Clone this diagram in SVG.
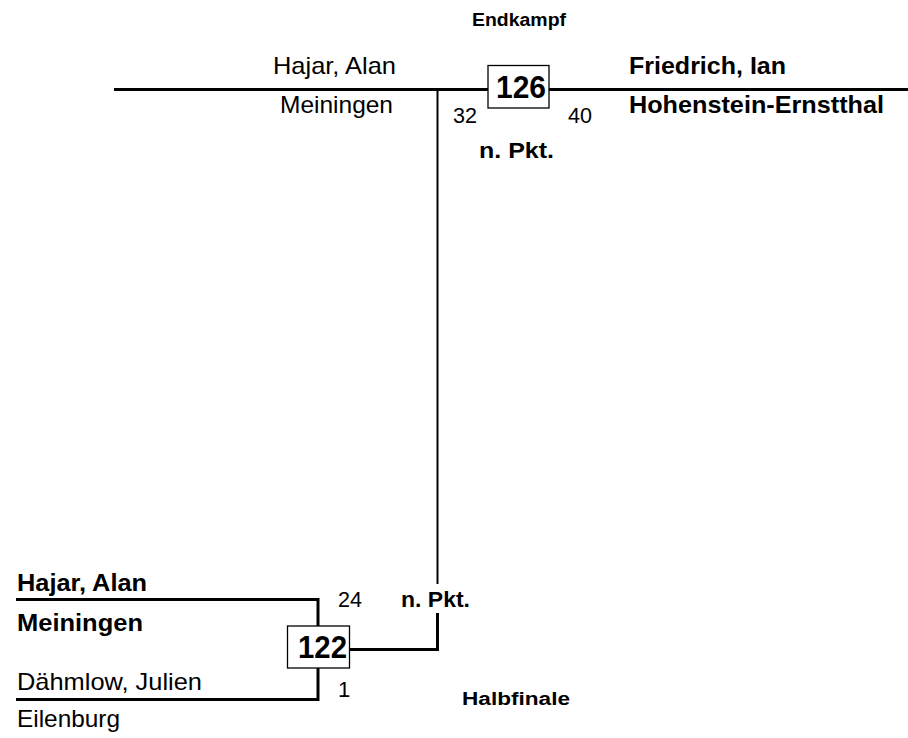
<svg xmlns="http://www.w3.org/2000/svg" width="908" height="738" viewBox="0 0 908 738">
<style>
text{font-family:"Liberation Sans",Arial,Helvetica,sans-serif;fill:#000}
.n{font-size:24px}
.b{font-size:24px;font-weight:bold}
.p{font-size:22px;font-weight:bold}
.s{font-size:18px;font-weight:bold}
.d{font-size:22px}
.box{fill:#fff;stroke:#000;stroke-width:1.3}
.num{font-size:31px;font-weight:bold}
.th{stroke:#000;stroke-width:3;fill:none}
.tn{stroke:#000;stroke-width:2;fill:none}
</style>
<rect width="908" height="738" fill="#fff"/>
<g id="connectors">
<line class="th" x1="114" y1="89.5" x2="908" y2="89.5"/>
<line class="tn" x1="437.5" y1="89.5" x2="437.5" y2="584"/>
<polyline class="th" points="349,649.5 437.5,649.5 437.5,613"/>
<polyline class="th" points="16,599.5 318,599.5 318,626"/>
<polyline class="th" points="16,699.5 318,699.5 318,668"/>
</g>
<g id="titles">
<text class="s" x="472" y="26" textLength="94" lengthAdjust="spacingAndGlyphs">Endkampf</text>
<text class="s" x="462" y="705" textLength="108" lengthAdjust="spacingAndGlyphs">Halbfinale</text>
</g>
<g id="match126">
<rect class="box" x="488" y="65.5" width="61" height="42.5"/>
<text class="num" x="496" y="98" textLength="50" lengthAdjust="spacingAndGlyphs">126</text>
<text class="d" x="453" y="123" textLength="24" lengthAdjust="spacingAndGlyphs">32</text>
<text class="d" x="568" y="123" textLength="24" lengthAdjust="spacingAndGlyphs">40</text>
<text class="p" x="479" y="158" textLength="75" lengthAdjust="spacingAndGlyphs">n. Pkt.</text>
</g>
<g id="player-top-left">
<text class="n" x="273" y="74" textLength="123" lengthAdjust="spacingAndGlyphs">Hajar, Alan</text>
<text class="n" x="280" y="113" textLength="113" lengthAdjust="spacingAndGlyphs">Meiningen</text>
</g>
<g id="player-top-right">
<text class="b" x="629" y="74" textLength="157" lengthAdjust="spacingAndGlyphs">Friedrich, Ian</text>
<text class="b" x="629" y="113" textLength="255" lengthAdjust="spacingAndGlyphs">Hohenstein-Ernstthal</text>
</g>
<g id="match122">
<rect class="box" x="287.5" y="626" width="62" height="42"/>
<text class="num" x="298" y="658" textLength="49" lengthAdjust="spacingAndGlyphs">122</text>
<text class="d" x="338" y="607" textLength="24" lengthAdjust="spacingAndGlyphs">24</text>
<text class="d" x="338" y="697">1</text>
<text class="p" x="401" y="607" textLength="69" lengthAdjust="spacingAndGlyphs">n. Pkt.</text>
</g>
<g id="player-bottom-1">
<text class="b" x="17" y="591" textLength="130" lengthAdjust="spacingAndGlyphs">Hajar, Alan</text>
<text class="b" x="17" y="631" textLength="126" lengthAdjust="spacingAndGlyphs">Meiningen</text>
</g>
<g id="player-bottom-2">
<text class="n" x="17" y="690" textLength="185" lengthAdjust="spacingAndGlyphs">Dähmlow, Julien</text>
<text class="n" x="17" y="727" textLength="103" lengthAdjust="spacingAndGlyphs">Eilenburg</text>
</g>
</svg>
